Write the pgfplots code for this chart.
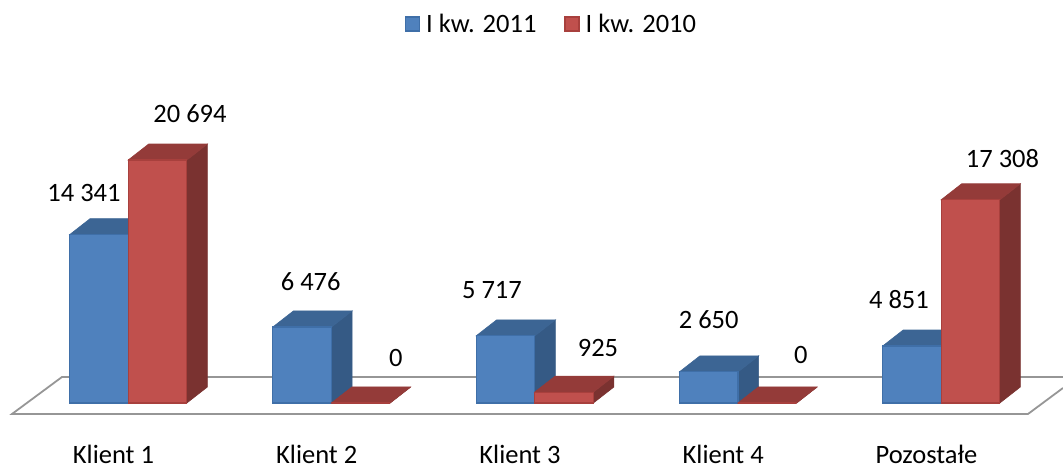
\documentclass[border=0pt]{standalone}
\usepackage{pgfplots}
\pgfplotsset{compat=1.18}
\usepackage{pgfplotstable}
\usepackage{fontspec}
\setmainfont{Carlito}
\definecolor{bfront}{HTML}{4F81BD}
\definecolor{bline}{HTML}{3F6FA8}
\definecolor{btop}{HTML}{3C6594}
\definecolor{bside}{HTML}{355A85}
\definecolor{rfront}{HTML}{C0504D}
\definecolor{rline}{HTML}{A8403D}
\definecolor{rtop}{HTML}{943B39}
\definecolor{rside}{HTML}{7A3230}
\definecolor{floorc}{HTML}{969696}
\pgfplotstableread{
x y dx dy
0 14341 -44.5 42
1 6476 -21 45
2 5717 -43 46
3 2650 -29.5 52
4 4851 -42.5 46
}\tblblue
\pgfplotstableread{
x y dx dy
0 20694 61.5 46
1 0 64 45
2 925 63 44
3 0 62.5 48
4 17308 61 41
}\tblred
% top and side faces of a bar: x, value, bar shift (in x units), top colour, side colour
\newcommand\barfaces[5]{%
  \pgfmathsetmacro\xa{#1+#3-0.1445}%
  \pgfmathsetmacro\xb{#1+#3+0.1445}%
  \pgfmathsetmacro\xc{#1+#3+0.1445+0.1009}%
  \pgfmathsetmacro\xd{#1+#3-0.1445+0.1009}%
  \edef\yt{\the\numexpr#2+1363\relax}%
  \addplot[fill=#5,draw=#5,line width=0.6pt,forget plot] coordinates {(\xb,0) (\xc,1363) (\xc,\yt) (\xb,#2)} -- cycle;
  \addplot[fill=#4,draw=#4,line width=0.6pt,forget plot] coordinates {(\xa,#2) (\xb,#2) (\xc,\yt) (\xd,\yt)} -- cycle;
}
\begin{document}
\begin{tikzpicture}
\useasboundingbox (0,0) rectangle (1063pt,468pt);
\begin{axis}[
  at={(0,38pt)}, anchor=south west,
  scale only axis, width=1063pt, height=430pt,
  xmin=-0.6322, xmax=4.5978, ymin=-2300, ymax=34327,
  clip=false,
  axis line style={draw=none},
  tick style={draw=none},
  major tick length=0pt,
  ytick=\empty,
  xtick={0,1,2,3,4},
  xticklabels={Klient 1,Klient 2,Klient 3,Klient 4,Pozostałe},
  xticklabel style={font=\fontsize{26.5}{30}\selectfont, anchor=base, inner sep=0pt, xshift=-15pt, yshift=-34pt},
  legend style={at={(0.5188,0.944)}, anchor=center, draw=none, fill=none, legend columns=2,
    font=\fontsize{26.5}{30}\selectfont,
    /tikz/every even column/.append style={column sep=26pt}},
  legend cell align=left,
  legend image code/.code={\draw[#1,line width=1.3pt] (0pt,-7pt) rectangle (14pt,7pt);\path (18pt,0pt);},
]
% floor
\addplot[draw=floorc,line width=1.8pt,forget plot] coordinates {(4.5978,1278) (4.4256,-937) (-0.5732,-937) (-0.3272,2215) (4.5978,2215)};
% blue series
\barfaces{0}{14341}{-0.1451}{btop}{bside}
\barfaces{1}{6476}{-0.1451}{btop}{bside}
\barfaces{2}{5717}{-0.1451}{btop}{bside}
\barfaces{3}{2650}{-0.1451}{btop}{bside}
\barfaces{4}{4851}{-0.1451}{btop}{bside}
\addplot[ybar,bar width=58.7pt,bar shift=-29.5pt,fill=bfront,draw=bline,line width=1.2pt] table[x=x,y=y] {\tblblue};
\addlegendentry{I kw. 2011}
% red series
\barfaces{0}{20694}{0.1427}{rtop}{rside}
\barfaces{1}{0}{0.1427}{rtop}{rside}
\barfaces{2}{925}{0.1427}{rtop}{rside}
\barfaces{3}{0}{0.1427}{rtop}{rside}
\barfaces{4}{17308}{0.1427}{rtop}{rside}
\addplot[ybar,bar width=58.7pt,bar shift=29pt,fill=rfront,draw=rline,line width=1.2pt] table[x=x,y=y] {\tblred};
\addlegendentry{I kw. 2010}
% value labels
\pgfplotsset{lab/.style={draw=none,mark=none,forget plot,point meta=y,
  visualization depends on={\thisrow{dx}\as\dx},
  visualization depends on={\thisrow{dy}\as\dy},
  nodes near coords,
  every node near coord/.append style={anchor=center,xshift=\dx pt,yshift=\dy pt,
    font=\fontsize{26.5}{30}\selectfont,
    /pgf/number format/assume math mode=true,
    /pgf/number format/fixed,
    /pgf/number format/1000 sep={\ }}}}
\addplot[lab] table[x=x,y=y] {\tblblue};
\addplot[lab] table[x=x,y=y] {\tblred};
\end{axis}
\end{tikzpicture}
\end{document}
